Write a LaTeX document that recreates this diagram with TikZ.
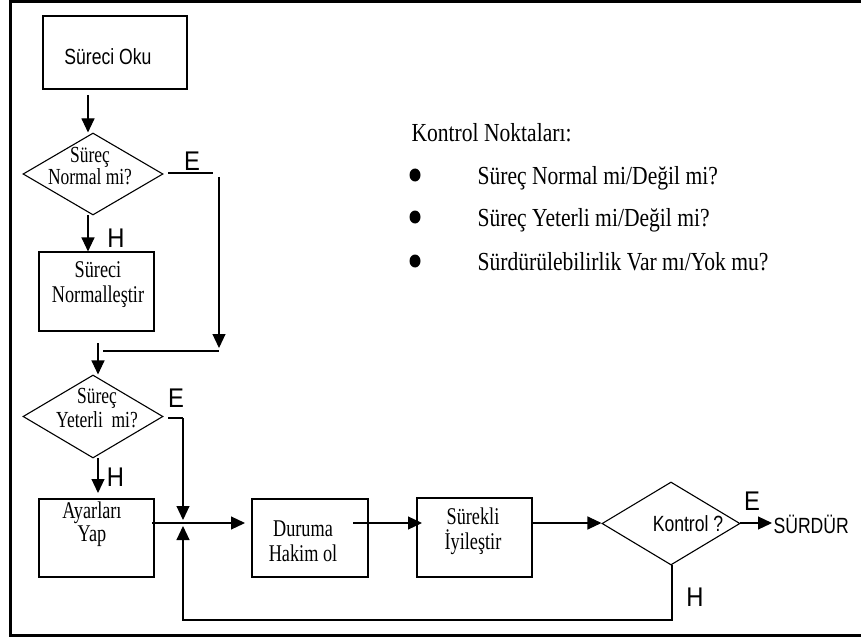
\documentclass[tikz,border=0pt]{standalone}
\usepackage{fontspec}
\newfontfamily\serifA{Liberation Serif}[FakeStretch=0.83]
\newfontfamily\serifB{Liberation Serif}[FakeStretch=0.76]
\newfontfamily\sansx{Liberation Sans}[FakeStretch=0.8]
\newfontfamily\sansy{Liberation Sans}[FakeStretch=0.88]
\usetikzlibrary{shapes.geometric,arrows.meta,calc}
\begin{document}
\begin{tikzpicture}[x=1pt,y=-1pt,line width=1.1pt,
  box/.style={draw,rectangle,inner sep=0pt,line width=1.1pt},
  dia/.style={draw,diamond,inner sep=0pt,line width=1.1pt},
  btxt/.style={font=\serifB\fontsize{24}{25}\selectfont,align=center,inner sep=0pt},
  ltxt/.style={font=\serifA\fontsize{26}{28}\selectfont,inner sep=0pt,anchor=base west},
  stxt/.style={font=\sansx\fontsize{22}{23}\selectfont,inner sep=0pt},
  yn/.style={font=\sansy\fontsize{27}{27}\selectfont,inner sep=0pt},
  arr/.style={-{Triangle[length=14pt,width=13pt]}},
  bul/.style={fill,ellipse,inner sep=0pt,minimum width=11pt,minimum height=13pt}]
\useasboundingbox (0,0) rectangle (861,639);
% frame
\draw[line width=3pt] (861,1.5) -- (10.5,1.5) -- (10.5,635.5) -- (861,635.5);

% boxes
\node[box,minimum width=144pt,minimum height=73pt] (oku) at (115,52.5) {};
\node[stxt] (okut) at (108,57) {Süreci Oku};
\node[box,minimum width=115pt,minimum height=79pt] (norm) at (96.5,291.5) {};
\node[btxt,font=\serifB\fontsize{24}{25}\selectfont] (normt) at (98,285) {Süreci\\Normalleştir};
\node[box,minimum width=115pt,minimum height=78pt] (ayar) at (96.5,538) {};
\node[btxt,font=\serifB\fontsize{24}{23}\selectfont] (ayart) at (92,524) {Ayarları\\Yap};
\node[box,minimum width=116pt,minimum height=78pt] (dur) at (310,538) {};
\node[btxt] (durt) at (303,541) {Duruma\\Hakim ol};
\node[box,minimum width=115pt,minimum height=79pt] (sur) at (474.5,537.5) {};
\node[btxt,font=\serifB\fontsize{24}{25}\selectfont] (surt) at (473,531) {Sürekli\\İyileştir};

% diamonds
\node[dia,minimum width=140pt,minimum height=82pt] (d1) at (93,174) {};
\node[btxt,font=\serifB\fontsize{23}{17}\selectfont] (d1t) at (90,166) {Süreç\\Normal mi?};
\node[dia,minimum width=140pt,minimum height=83pt] (d2) at (93,416.5) {};
\node[btxt,font=\serifB\fontsize{23}{24}\selectfont] (d2t) at (97,408) {Süreç\\Yeterli\ \ mi?};
\node[dia,minimum width=138pt,minimum height=83pt] (d3) at (671,523.5) {};
\node[stxt] (d3t) at (688,524) {Kontrol ?};

% legend
\node[ltxt] (head) at (411,142) {Kontrol Noktaları:};
\node[bul] (b1) at (415,175) {};
\node[bul] (b2) at (415,217) {};
\node[bul] (b3) at (415,261) {};
\node[ltxt] (l1) at (477,185) {Süreç Normal mi/Değil mi?};
\node[ltxt] (l2) at (477,226) {Süreç Yeterli mi/Değil mi?};
\node[ltxt] (l3) at (477,270) {Sürdürülebilirlik Var mı/Yok mu?};

% labels
\node[yn] (e1) at (192,161) {E};
\node[yn] (h1) at (116,238) {H};
\node[yn] (e2) at (176,398) {E};
\node[yn] (h2) at (115.5,477) {H};
\node[yn] (e3) at (752,501.5) {E};
\node[yn] (h3) at (695,597.5) {H};
\node[stxt,anchor=west] (surdur) at (773,524.5) {SÜRDÜR};

% helper coordinates
\coordinate (c1) at (88,95);
\coordinate (c2) at (88,215);
\coordinate (c3) at (168,173);
\coordinate (c4) at (213,173);
\coordinate (c5) at (219,177);
\coordinate (c6) at (219,348);
\coordinate (c7) at (103,351);
\coordinate (c8) at (219,351);
\coordinate (c9) at (98,343);
\coordinate (c10) at (168,418);
\coordinate (c11) at (183,418);
\coordinate (c12) at (183,520);
\coordinate (c13) at (98,458);
\coordinate (c13b) at (98,493);
\coordinate (c14) at (152,523);
\coordinate (c15) at (245,523);
\coordinate (c16) at (353,523);
\coordinate (c17) at (422,523);
\coordinate (c18) at (532,523);
\coordinate (c19) at (740,523);
\coordinate (c20) at (772,523);
\coordinate (c21) at (672,565);
\coordinate (c22) at (672,620);
\coordinate (c23) at (183,620);
\coordinate (c24) at (183,526);

% connectors
\draw[arr] (c1) -- (c1 |- d1.north);
\draw[arr] (c2) -- (c2 |- norm.north);
\draw (c3) -- (c4);
\draw[arr] (c5) -- (c6);
\draw (c7) -- (c8);
\draw[arr] (c9) -- (c9 |- d2.north);
\draw (c10) -- (c11);
\draw[arr] (c11) -- (c12);
\draw[arr] (c13) -- (c13b);
\draw[arr] (c14) -- (c15);
\draw[arr] (c16) -- (c17);
\draw[arr] (c18) -- (c18 -| d3.west);
\draw[arr] (c19) -- (c20);
\draw[arr] (c21) -- (c22) -- (c23) -- (c24);
\end{tikzpicture}
\end{document}
